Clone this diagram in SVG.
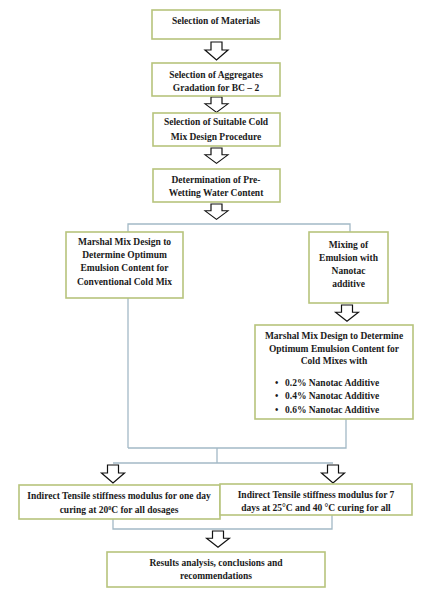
<svg xmlns="http://www.w3.org/2000/svg" xmlns:xlink="http://www.w3.org/1999/xlink" width="439" height="602" viewBox="0 0 439 602">
<style>
.box{fill:#ffffff;stroke:#b7c47c;stroke-width:1.6}
.t{font-family:"Liberation Serif","Times New Roman",serif;font-weight:bold;font-size:9.5px;fill:#1a1a1a;text-anchor:middle}
.tl{font-family:"Liberation Serif","Times New Roman",serif;font-weight:bold;font-size:9.5px;fill:#1a1a1a}
.ln{fill:none;stroke:#a3b9c6;stroke-width:1.3}
.ar{fill:#ffffff;stroke:#111111;stroke-width:1.2;stroke-linejoin:miter}
</style>
<defs>
<path id="arr" class="ar" d="M-5.5,0 H5.5 V8 H11.5 L0,18 L-11.5,8 H-5.5 Z"/>
</defs>
<rect width="439" height="602" fill="#ffffff"/>
<g id="connectors">
<polyline class="ln" points="128,298 128,224 350,224 350,232"/>
<line class="ln" x1="128" y1="298" x2="128" y2="448"/>
<polyline class="ln" points="346,419 346,448 128,448"/>
<polyline class="ln" points="217,448 217,463"/>
<polyline class="ln" points="113,463 333,463"/>
<polyline class="ln" points="113,519 113,529 332,529 332,515"/>
<use xlink:href="#arr" transform="translate(216.5,42)"/>
<use xlink:href="#arr" transform="translate(216.5,97) scale(1,0.85)"/>
<use xlink:href="#arr" transform="translate(216.5,148) scale(1,0.85)"/>
<use xlink:href="#arr" transform="translate(216.5,204) scale(1,0.85)"/>
<use xlink:href="#arr" transform="translate(347,305) scale(1,0.9)"/>
<use xlink:href="#arr" transform="translate(113,465)"/>
<use xlink:href="#arr" transform="translate(333,465)"/>
<use xlink:href="#arr" transform="translate(218,531) scale(1,0.9)"/>
</g>
<g id="n1"><rect class="box" x="152" y="10" width="128" height="29"/>
<text class="t" x="216" y="24">Selection of Materials</text></g>
<g id="n2"><rect class="box" x="152" y="63" width="128" height="33"/>
<text class="t" x="216" y="78">Selection of Aggregates</text>
<text class="t" x="216" y="90.5">Gradation for BC – 2</text></g>
<g id="n3"><rect class="box" x="153" y="113" width="127" height="33"/>
<text class="t" x="216" y="124.5">Selection of Suitable Cold</text>
<text class="t" x="216" y="139.5">Mix Design Procedure</text></g>
<g id="n4"><rect class="box" x="153" y="169" width="127" height="33"/>
<text class="t" x="216" y="183">Determination of Pre-</text>
<text class="t" x="216" y="195.5">Wetting Water Content</text></g>
<g id="n5"><rect class="box" x="66" y="232" width="117" height="66"/>
<text class="t" x="124.5" y="244.5">Marshal Mix Design to</text>
<text class="t" x="124.5" y="257.5">Determine Optimum</text>
<text class="t" x="124.5" y="271">Emulsion Content for</text>
<text class="t" x="124.5" y="284.5">Conventional Cold Mix</text></g>
<g id="n6"><rect class="box" x="309" y="232" width="79" height="71"/>
<text class="t" x="348.5" y="248">Mixing of</text>
<text class="t" x="348.5" y="261">Emulsion with</text>
<text class="t" x="348.5" y="274">Nanotac</text>
<text class="t" x="348.5" y="287">additive</text></g>
<g id="n7"><rect class="box" x="255" y="325" width="158" height="94"/>
<text class="t" x="334" y="339">Marshal Mix Design to Determine</text>
<text class="t" x="334" y="351.5">Optimum Emulsion Content for</text>
<text class="t" x="334" y="364">Cold Mixes with</text>
<text class="tl" x="275" y="385.5">•</text><text class="tl" x="285" y="385.5">0.2% Nanotac Additive</text>
<text class="tl" x="275" y="399">•</text><text class="tl" x="285" y="399">0.4% Nanotac Additive</text>
<text class="tl" x="275" y="412.5">•</text><text class="tl" x="285" y="412.5">0.6% Nanotac Additive</text></g>
<g id="n8"><rect class="box" x="19" y="485" width="201" height="34"/>
<text class="t" x="119" y="499">Indirect Tensile stiffness modulus for one day</text>
<text class="t" x="119" y="513">curing at 20<tspan font-size="6" dy="-3">0</tspan><tspan dy="3">C for all dosages</tspan></text></g>
<g id="n9"><rect class="box" x="220" y="484" width="192" height="31"/>
<text class="t" x="316" y="498">Indirect Tensile stiffness modulus for 7</text>
<text class="t" x="316" y="511">days at 25°C and 40 °C curing for all</text></g>
<g id="n10"><rect class="box" x="107" y="552" width="218" height="35"/>
<text class="t" x="216" y="566">Results analysis, conclusions and</text>
<text class="t" x="216" y="579">recommendations</text></g>
</svg>
